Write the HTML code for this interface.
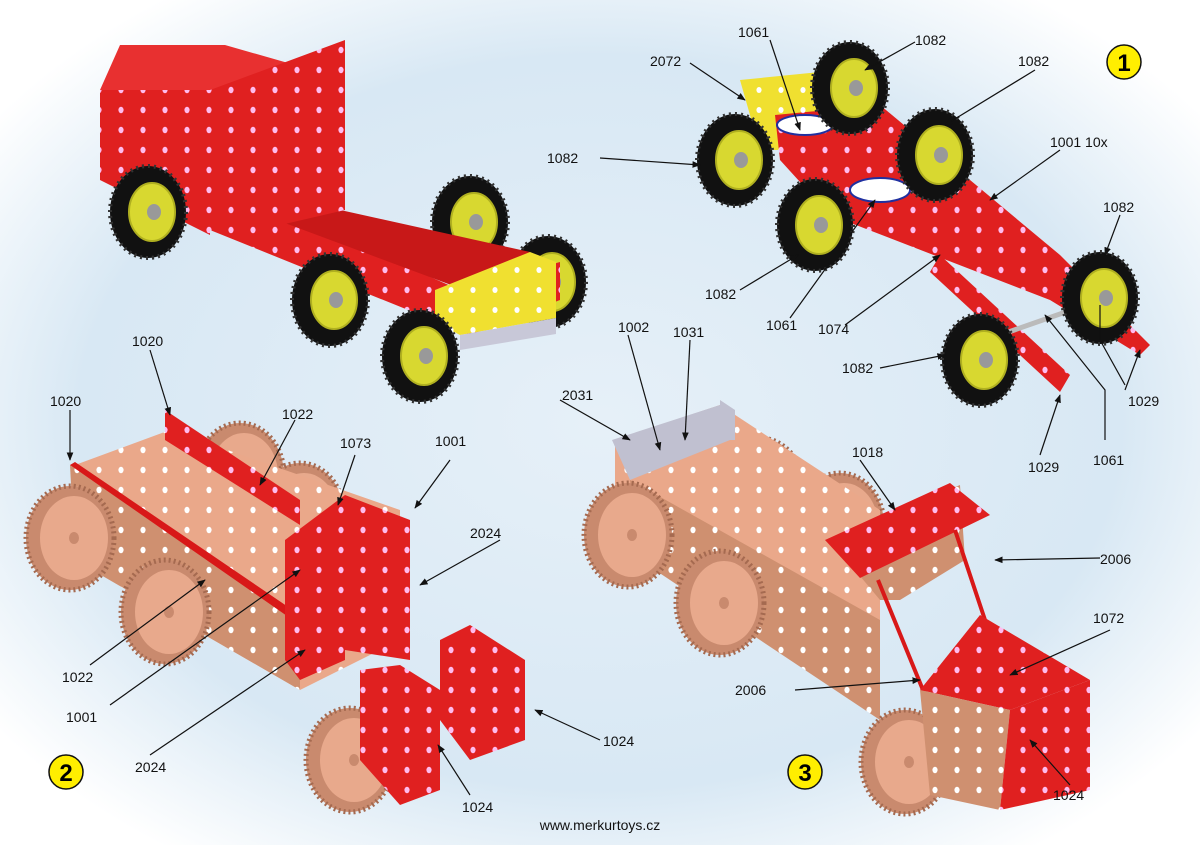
<!DOCTYPE html>
<html><head><meta charset="utf-8"><style>
html,body{margin:0;padding:0;background:#fff;}
svg{display:block;font-family:"Liberation Sans",Arial,sans-serif;}
</style></head><body>
<svg width="1200" height="845" viewBox="0 0 1200 845" xmlns="http://www.w3.org/2000/svg">
<defs>
<radialGradient id="bg" cx="50%" cy="50%" r="62%">
<stop offset="0" stop-color="#e6f0f8"/><stop offset="0.7" stop-color="#d8e8f4"/><stop offset="1" stop-color="#ffffff"/>
</radialGradient>
<marker id="ar" viewBox="0 0 10 10" refX="9" refY="5" markerWidth="7" markerHeight="7" orient="auto-start-reverse"><path d="M0,1 L10,5 L0,9 z" fill="#111"/></marker>
<pattern id="holesR" width="22" height="20" patternUnits="userSpaceOnUse"><rect width="22" height="20" fill="#e02020"/><ellipse cx="11" cy="10" rx="2.6" ry="3.2" fill="#fbe"/></pattern>
<pattern id="holesP" width="22" height="20" patternUnits="userSpaceOnUse"><rect width="22" height="20" fill="#eaa88a"/><ellipse cx="11" cy="10" rx="2.6" ry="3.2" fill="#fff"/></pattern>
<pattern id="holesPd" width="22" height="20" patternUnits="userSpaceOnUse"><rect width="22" height="20" fill="#cf9070"/><ellipse cx="11" cy="10" rx="2.6" ry="3.2" fill="#fff"/></pattern>
<pattern id="holesY" width="22" height="20" patternUnits="userSpaceOnUse"><rect width="22" height="20" fill="#f0e030"/><ellipse cx="11" cy="10" rx="2.6" ry="3" fill="#fff"/></pattern>
<g id="bw"><ellipse rx="38" ry="46" fill="#111"/><ellipse rx="38" ry="46" fill="none" stroke="#333" stroke-width="4" stroke-dasharray="2 4"/><ellipse cx="4" rx="23" ry="29" fill="#d8d830"/><ellipse cx="4" rx="23" ry="29" fill="none" stroke="#b0b020" stroke-width="2"/><ellipse cx="6" rx="7" ry="8" fill="#999"/></g>
<g id="pw"><ellipse rx="44" ry="52" fill="#c98a6e"/><ellipse rx="44" ry="52" fill="none" stroke="#a56a50" stroke-width="5" stroke-dasharray="2 3"/><ellipse cx="4" rx="34" ry="42" fill="#e8a98c"/><ellipse cx="4" rx="5" ry="6" fill="#c98a6e"/></g>
</defs>
<rect width="1200" height="845" fill="url(#bg)"/>

<!-- Q1: finished truck -->
<use href="#bw" x="470" y="222"/>
<use href="#bw" x="548" y="282"/>
<polygon points="210,180 460,290 560,262 560,300 470,335 210,230" fill="url(#holesR)"/>
<polygon points="250,190 530,252 540,262 470,292 250,210" fill="#c81818"/>
<polygon points="435,290 530,252 556,262 556,318 460,335 435,322" fill="url(#holesY)"/>
<polygon points="460,335 556,318 556,334 460,350" fill="#c8c8d8"/>
<polygon points="100,90 210,90 210,235 100,180" fill="url(#holesR)"/>
<polygon points="120,45 225,45 330,75 330,95 210,90 100,90" fill="#e83030"/>
<polygon points="210,90 345,40 345,210 250,232 210,215" fill="url(#holesR)"/>
<use href="#bw" x="148" y="212"/>
<use href="#bw" x="330" y="300"/>
<use href="#bw" x="420" y="356"/>

<!-- Q2: chassis step 1 -->
<polygon points="740,80 840,70 860,110 800,150 760,150" fill="url(#holesY)"/>
<polygon points="775,115 880,105 1060,255 1150,345 1140,355 1050,300 830,215 780,160" fill="url(#holesR)"/>
<polygon points="940,255 1070,375 1060,392 930,272" fill="url(#holesR)"/>
<line x1="1000" y1="335" x2="1100" y2="300" stroke="#bbb" stroke-width="5"/>
<ellipse cx="880" cy="190" rx="30" ry="12" fill="#fff" stroke="#2030a0" stroke-width="2"/>
<ellipse cx="805" cy="125" rx="28" ry="10" fill="#fff" stroke="#2030a0" stroke-width="2"/>
<use href="#bw" x="850" y="88"/>
<use href="#bw" x="935" y="155"/>
<use href="#bw" x="735" y="160"/>
<use href="#bw" x="815" y="225"/>
<use href="#bw" x="1100" y="298"/>
<use href="#bw" x="980" y="360"/>

<!-- Q3: step 2 -->
<use href="#pw" x="240" y="475"/>
<use href="#pw" x="300" y="515"/>
<polygon points="75,465 170,430 400,510 400,640 300,690 75,560" fill="url(#holesP)"/>
<polygon points="70,465 300,620 300,690 75,560" fill="url(#holesPd)"/>
<polygon points="165,410 300,500 300,525 165,440" fill="url(#holesR)"/>
<polygon points="70,465 75,462 300,615 300,625" fill="#d81818"/>
<use href="#pw" x="70" y="538"/>
<use href="#pw" x="165" y="612"/>
<polygon points="285,540 345,495 345,660 300,680 285,660" fill="url(#holesR)"/>
<polygon points="345,495 410,520 410,660 345,650" fill="url(#holesR)"/>
<use href="#pw" x="350" y="760"/>
<polygon points="360,670 400,665 440,690 440,790 400,805 360,760" fill="url(#holesR)"/>
<polygon points="440,640 470,625 525,660 525,740 470,760 440,720" fill="url(#holesR)"/>

<!-- Q4: step 3 -->
<use href="#pw" x="760" y="490"/>
<use href="#pw" x="840" y="525"/>
<polygon points="615,440 720,405 880,510 880,640 700,560 615,500" fill="url(#holesP)"/>
<polygon points="630,480 880,620 880,720 640,560" fill="url(#holesPd)"/>
<polygon points="612,440 720,405 730,440 630,480" fill="#c0c0d0"/>
<polygon points="720,400 735,410 735,440 720,440" fill="#c0c0d0"/>
<use href="#pw" x="628" y="535"/>
<use href="#pw" x="720" y="603"/>
<polygon points="830,540 960,485 965,560 900,600 880,600" fill="url(#holesPd)"/>
<polygon points="825,540 950,483 990,515 860,578" fill="url(#holesR)"/>
<line x1="878" y1="580" x2="925" y2="695" stroke="#d81818" stroke-width="4"/>
<line x1="955" y1="530" x2="985" y2="620" stroke="#d81818" stroke-width="4"/>
<use href="#pw" x="905" y="762"/>
<polygon points="920,690 960,640 980,615 1090,680 1010,710" fill="url(#holesR)"/>
<polygon points="920,690 1010,710 1000,810 930,795" fill="url(#holesPd)"/>
<polygon points="1010,710 1090,680 1090,790 1000,810" fill="url(#holesR)"/>

<!-- Leaders -->
<g stroke="#111" stroke-width="1.2" fill="none" marker-end="url(#ar)">
<path d="M770,40 L800,130"/><path d="M915,42 L865,70"/><path d="M1035,70 L945,125"/>
<path d="M690,63 L745,100"/><path d="M600,158 L700,165"/><path d="M1060,150 L990,200"/>
<path d="M1120,215 L1105,255"/><path d="M740,290 L798,255"/><path d="M790,318 L875,200"/>
<path d="M845,325 L940,255"/><path d="M880,368 L945,355"/><path d="M1040,455 L1060,395"/>
<path d="M1125,385 L1100,340 L1100,305" marker-end="none"/><path d="M1125,390 L1140,350"/>
<path d="M1105,440 L1105,390 L1045,315"/>
<path d="M150,350 L170,415"/><path d="M70,410 L70,460"/><path d="M295,420 L260,485"/>
<path d="M355,455 L338,505"/><path d="M450,460 L415,508"/><path d="M500,540 L420,585"/>
<path d="M90,665 L205,580"/><path d="M110,705 L300,570"/><path d="M150,755 L305,650"/>
<path d="M470,795 L438,745"/><path d="M600,740 L535,710"/>
<path d="M628,335 L660,450"/><path d="M690,340 L685,440"/><path d="M560,400 L630,440"/>
<path d="M860,460 L895,510"/><path d="M1100,558 L995,560"/><path d="M1110,630 L1010,675"/>
<path d="M795,690 L920,680"/><path d="M1070,785 L1030,740"/>
</g>
<g font-size="14" fill="#111">
<text x="738" y="37">1061</text><text x="915" y="45">1082</text><text x="1018" y="66">1082</text>
<text x="650" y="66">2072</text><text x="547" y="163">1082</text><text x="1050" y="147">1001 10x</text>
<text x="1103" y="212">1082</text><text x="705" y="299">1082</text><text x="766" y="330">1061</text>
<text x="818" y="334">1074</text><text x="842" y="373">1082</text><text x="1028" y="472">1029</text>
<text x="1128" y="406">1029</text><text x="1093" y="465">1061</text>
<text x="132" y="346">1020</text><text x="50" y="406">1020</text><text x="282" y="419">1022</text>
<text x="340" y="448">1073</text><text x="435" y="446">1001</text><text x="470" y="538">2024</text>
<text x="62" y="682">1022</text><text x="66" y="722">1001</text><text x="135" y="772">2024</text>
<text x="462" y="812">1024</text><text x="603" y="746">1024</text>
<text x="618" y="332">1002</text><text x="673" y="337">1031</text><text x="562" y="400">2031</text>
<text x="852" y="457">1018</text><text x="1100" y="564">2006</text><text x="1093" y="623">1072</text>
<text x="735" y="695">2006</text><text x="1053" y="800">1024</text>
</g>
<g font-weight="bold" font-size="24" text-anchor="middle">
<circle cx="1124" cy="62" r="17" fill="#ffee00" stroke="#111" stroke-width="1.5"/><text x="1124" y="71">1</text>
<circle cx="66" cy="772" r="17" fill="#ffee00" stroke="#111" stroke-width="1.5"/><text x="66" y="781">2</text>
<circle cx="805" cy="772" r="17" fill="#ffee00" stroke="#111" stroke-width="1.5"/><text x="805" y="781">3</text>
</g>
<text x="600" y="830" font-size="14" text-anchor="middle" fill="#111">www.merkurtoys.cz</text>
</svg>
</body></html>
